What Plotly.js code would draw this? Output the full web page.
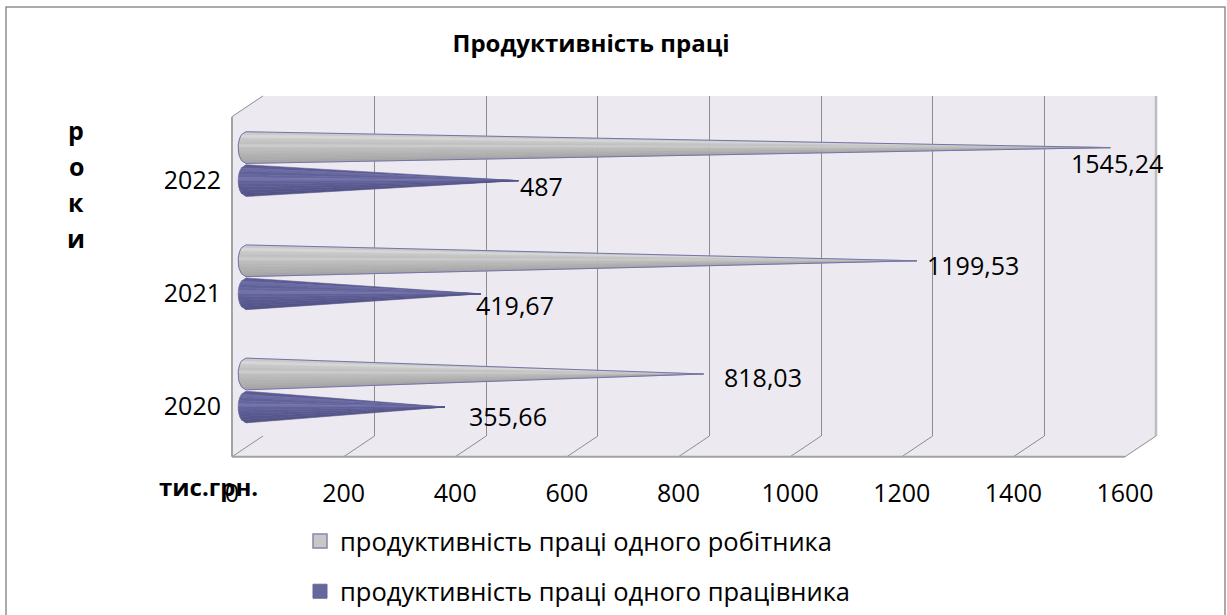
<!DOCTYPE html>
<html>
<head>
<meta charset="utf-8">
<script src="https://cdn.plot.ly/plotly-3.0.1.min.js"></script>
<style>
  html, body { margin: 0; padding: 0; background: #ffffff; }
  #chart { width: 1227px; height: 615px; }
</style>
</head>
<body>
<div id="chart"></div>
<script>
// Labour productivity, thousand UAH
const years = ['2020', '2021', '2022'];
const workerValues = [818.03, 1199.53, 1545.24];   // одного робітника
const employeeValues = [355.66, 419.67, 487];      // одного працівника
const seriesNames = [
  'продуктивність праці одного робітника',
  'продуктивність праці одного працівника'
];
const xTicks = [0, 200, 400, 600, 800, 1000, 1200, 1400, 1600];

// ---- page geometry (pixels) ----
const W = 1227, H = 615;
const FONT = 'Open Sans, sans-serif';
const px = v => v / W;
const py = v => 1 - v / H;

// back wall, floor, depth offset
const BACK = { left: 263, right: 1156, top: 97, bottom: 441 };
const DEPTH = { dx: -31, dy: 21 };
const FRONT_LEFT = BACK.left + DEPTH.dx;      // 232
const FRONT_RIGHT = BACK.right + DEPTH.dx;    // 1125
const FRONT_BOTTOM = BACK.bottom + DEPTH.dy;  // 462

// cones sit half way into the depth
const MID_ZERO = 246, MID_FULL = 1141;
const scale = (MID_FULL - MID_ZERO) / 1600;
const X3_MIN = -30;
const CAT_TOP = 166, CAT_STEP = 114.5;         // pixel centre of top category, spacing
const yTopPx = CAT_TOP - 0.5 * CAT_STEP;
const yBotPx = CAT_TOP + 2.5 * CAT_STEP;
const FRONT_SHIFT = 16;

const HALF = 0.14;      // cone half-height in category units
const OFFSET = 0.146;   // distance of each cone from category centre
const END = 14;         // depth of the elliptic base, x units

const greyBands = ['#c9c9c9', '#d6d6d6', '#c8c8c8', '#c1c1c1', '#cbcbcb',
                   '#bdbdbd', '#b8b8b8', '#b2b2b2', '#adadad', '#a6a6a6'];
const purpleBands = ['#5c5c93', '#6b6ba5', '#616199', '#66669f', '#7373ab',
                     '#63639c', '#5e5e96', '#5a5a91', '#57578d', '#545489'];

const baseX = t => -END * Math.sqrt(Math.max(0, 1 - t * t));

function coneBands(values, offset, colors) {
  const n = colors.length;
  return colors.map((c, i) => {
    const xs = [], ys = [];
    const t0 = 1 - 2 * i / n, t1 = 1 - 2 * (i + 1) / n;
    values.forEach((v, k) => {
      const yc = k + offset;
      xs.push(baseX(t0), v, baseX(t1), baseX(t0), null);
      ys.push(yc + HALF * t0, yc, yc + HALF * t1, yc + HALF * t0, null);
    });
    return {
      type: 'scatter', mode: 'lines', x: xs, y: ys, xaxis: 'x3', yaxis: 'y3',
      fill: 'toself', fillcolor: c, line: { width: 0.6, color: c },
      hoverinfo: 'skip', showlegend: false
    };
  });
}

function coneOutline(values, offset, color) {
  const xs = [], ys = [];
  values.forEach((v, k) => {
    const yc = k + offset;
    for (let j = 0; j <= 12; j++) {
      const t = 1 - 2 * j / 12;
      xs.push(baseX(t)); ys.push(yc + HALF * t);
    }
    xs.push(v, baseX(1), null);
    ys.push(yc, yc + HALF, null);
  });
  return {
    type: 'scatter', mode: 'lines', x: xs, y: ys, xaxis: 'x3', yaxis: 'y3',
    line: { width: 1, color: color }, hoverinfo: 'skip', showlegend: false
  };
}

const traces = [];
// back-wall grid subplot placeholder
traces.push({ type: 'scatter', x: [null], y: [null], xaxis: 'x2', yaxis: 'y2',
              hoverinfo: 'skip', showlegend: false });
traces.push(...coneBands(workerValues, OFFSET, greyBands));
traces.push(coneOutline(workerValues, OFFSET, '#7474aa'));
traces.push(...coneBands(employeeValues, -OFFSET, purpleBands));
// legend entries
traces.push({
  type: 'scatter', mode: 'markers', x: [null], y: [null], name: seriesNames[0],
  legendgroup: 'a', marker: { symbol: 'square', size: 14, color: '#c8c8c8',
  line: { color: '#8585b0', width: 1.5 } }
});
traces.push({
  type: 'scatter', mode: 'markers', x: [null], y: [null], name: seriesNames[1],
  legendgroup: 'b', marker: { symbol: 'square', size: 14, color: '#67679d',
  line: { color: '#67679d', width: 1 } }
});

// value labels: pixel nudges relative to each cone tip
const labelNudge = {
  worker: [[18, 3], [8, 4], [-41, 15]],
  employee: [[22, 9], [-7, 11], [0, 5]]
};
const fmt = v => String(v).replace('.', ',');
const annotations = [];
function addLabels(values, offset, nudges) {
  values.forEach((v, k) => {
    annotations.push({
      xref: 'x3', yref: 'y3', x: v, y: k + offset, text: fmt(v),
      showarrow: false, xanchor: 'left', yanchor: 'middle',
      xshift: nudges[k][0], yshift: -nudges[k][1],
      font: { family: FONT, size: 25, color: '#000000' }
    });
  });
}
addLabels(workerValues, OFFSET, labelNudge.worker);
addLabels(employeeValues, -OFFSET, labelNudge.employee);

// vertical axis caption, one letter per line
['р', 'о', 'к', 'и'].forEach((ch, i) => {
  annotations.push({
    xref: 'paper', yref: 'paper', x: px(76), y: py(131 + i * 36.5), text: ch,
    showarrow: false, xanchor: 'center', yanchor: 'middle',
    font: { family: FONT, size: 25, color: '#000000', weight: 'bold' }
  });
});
// horizontal axis caption
annotations.push({
  xref: 'paper', yref: 'paper', x: px(157), y: py(492), text: 'тис.грн.',
  showarrow: false, xanchor: 'left', yanchor: 'middle',
  font: { family: FONT, size: 24, color: '#000000', weight: 'bold' }
});

// walls, floor and their edges
const wallFill = '#eceaf0';
const edge = '#a3a3a3';
const poly = pts => 'M ' + pts.map(p => px(p[0]) + ',' + py(p[1])).join(' L ') + ' Z';
const shapes = [
  { type: 'rect', xref: 'paper', yref: 'paper', x0: px(6), x1: px(1225), y0: py(640), y1: py(7),
    line: { color: '#8f8f8f', width: 1.5 }, fillcolor: 'rgba(0,0,0,0)', layer: 'below' },
  { type: 'path', xref: 'paper', yref: 'paper', layer: 'below', line: { width: 0 }, fillcolor: wallFill,
    path: poly([[BACK.left, BACK.top], [BACK.right, BACK.top], [BACK.right, BACK.bottom], [BACK.left, BACK.bottom]]) },
  { type: 'path', xref: 'paper', yref: 'paper', layer: 'below', line: { width: 0 }, fillcolor: wallFill,
    path: poly([[FRONT_LEFT, BACK.top + DEPTH.dy], [BACK.left, BACK.top], [BACK.left, BACK.bottom], [FRONT_LEFT, FRONT_BOTTOM]]) },
  { type: 'path', xref: 'paper', yref: 'paper', layer: 'below', line: { width: 0 }, fillcolor: wallFill,
    path: poly([[BACK.left, BACK.bottom], [BACK.right, BACK.bottom], [FRONT_RIGHT, FRONT_BOTTOM], [FRONT_LEFT, FRONT_BOTTOM]]) }
];
const seg = (a, b, color, width) => ({
  type: 'line', xref: 'paper', yref: 'paper', layer: 'below',
  x0: px(a[0]), y0: py(a[1]), x1: px(b[0]), y1: py(b[1]), line: { color: color, width: width }
});
// floor grid running towards the viewer
xTicks.forEach(t => {
  const xb = BACK.left + t * (BACK.right - BACK.left) / 1600;
  shapes.push(seg([xb, BACK.bottom], [xb + DEPTH.dx, FRONT_BOTTOM], '#8d8d8d', 1));
});
shapes.push(seg([FRONT_LEFT, BACK.top + DEPTH.dy], [BACK.left, BACK.top], '#8d8d8d', 1));
shapes.push(seg([FRONT_LEFT, BACK.top + DEPTH.dy], [FRONT_LEFT, FRONT_BOTTOM], edge, 2));
shapes.push(seg([FRONT_LEFT, FRONT_BOTTOM], [FRONT_RIGHT, FRONT_BOTTOM], edge, 2));
shapes.push(seg([BACK.right, BACK.top], [BACK.right, BACK.bottom], '#bdbdbd', 2.5));

const hidden = { showgrid: false, zeroline: false, showline: false, showticklabels: false, ticks: '' };

const layout = {
  width: W, height: H,
  margin: { l: 0, r: 0, t: 0, b: 0 },
  paper_bgcolor: '#ffffff', plot_bgcolor: 'rgba(0,0,0,0)',
  font: { family: FONT, color: '#000000' },
  title: {
    text: '<b>Продуктивність праці</b>', x: px(591), xanchor: 'center',
    y: py(44), yanchor: 'middle', font: { family: FONT, size: 24, color: '#000000' }
  },
  // front axis carrying the value labels
  xaxis: {
    domain: [px(FRONT_LEFT), px(FRONT_RIGHT)], range: [0, 1600], anchor: 'free', position: py(FRONT_BOTTOM),
    tickmode: 'array', tickvals: xTicks, ticktext: xTicks.map(String),
    showgrid: false, zeroline: false, showline: false,
    ticks: 'outside', ticklen: 14, tickcolor: 'rgba(0,0,0,0)',
    tickfont: { family: FONT, size: 25, color: '#000000' }, fixedrange: true
  },
  // front axis carrying the year labels
  yaxis: {
    domain: [py(yBotPx + FRONT_SHIFT), py(yTopPx + FRONT_SHIFT)], range: [-0.5, 2.5],
    anchor: 'free', position: px(FRONT_LEFT),
    tickmode: 'array', tickvals: [0, 1, 2], ticktext: years,
    showgrid: false, zeroline: false, showline: false,
    ticks: 'outside', ticklen: 6, tickcolor: 'rgba(0,0,0,0)',
    tickfont: { family: FONT, size: 25, color: '#000000' }, fixedrange: true
  },
  // back wall grid
  xaxis2: Object.assign({}, hidden, {
    domain: [px(BACK.left), px(BACK.right)], range: [0, 1600], anchor: 'y2',
    showgrid: true, gridcolor: '#8d8d8d', gridwidth: 1,
    tickmode: 'array', tickvals: xTicks.slice(0, -1)
  }),
  yaxis2: Object.assign({}, hidden, {
    domain: [py(BACK.bottom), py(BACK.top)], range: [0, 1], anchor: 'x2'
  }),
  // cones, half way into the depth
  xaxis3: Object.assign({}, hidden, {
    domain: [px(MID_ZERO + X3_MIN * scale), px(MID_FULL)], range: [X3_MIN, 1600], anchor: 'y3'
  }),
  yaxis3: Object.assign({}, hidden, {
    domain: [py(yBotPx), py(yTopPx)], range: [-0.5, 2.5], anchor: 'x3'
  }),
  legend: {
    x: px(300), y: py(524), xanchor: 'left', yanchor: 'top',
    orientation: 'v', traceorder: 'grouped', tracegroupgap: 14,
    bgcolor: 'rgba(0,0,0,0)', borderwidth: 0,
    font: { family: FONT, size: 25.5, color: '#000000' }
  },
  showlegend: true,
  shapes: shapes,
  annotations: annotations
};

Plotly.newPlot('chart', traces, layout, { staticPlot: true, displayModeBar: false });
</script>
</body>
</html>
